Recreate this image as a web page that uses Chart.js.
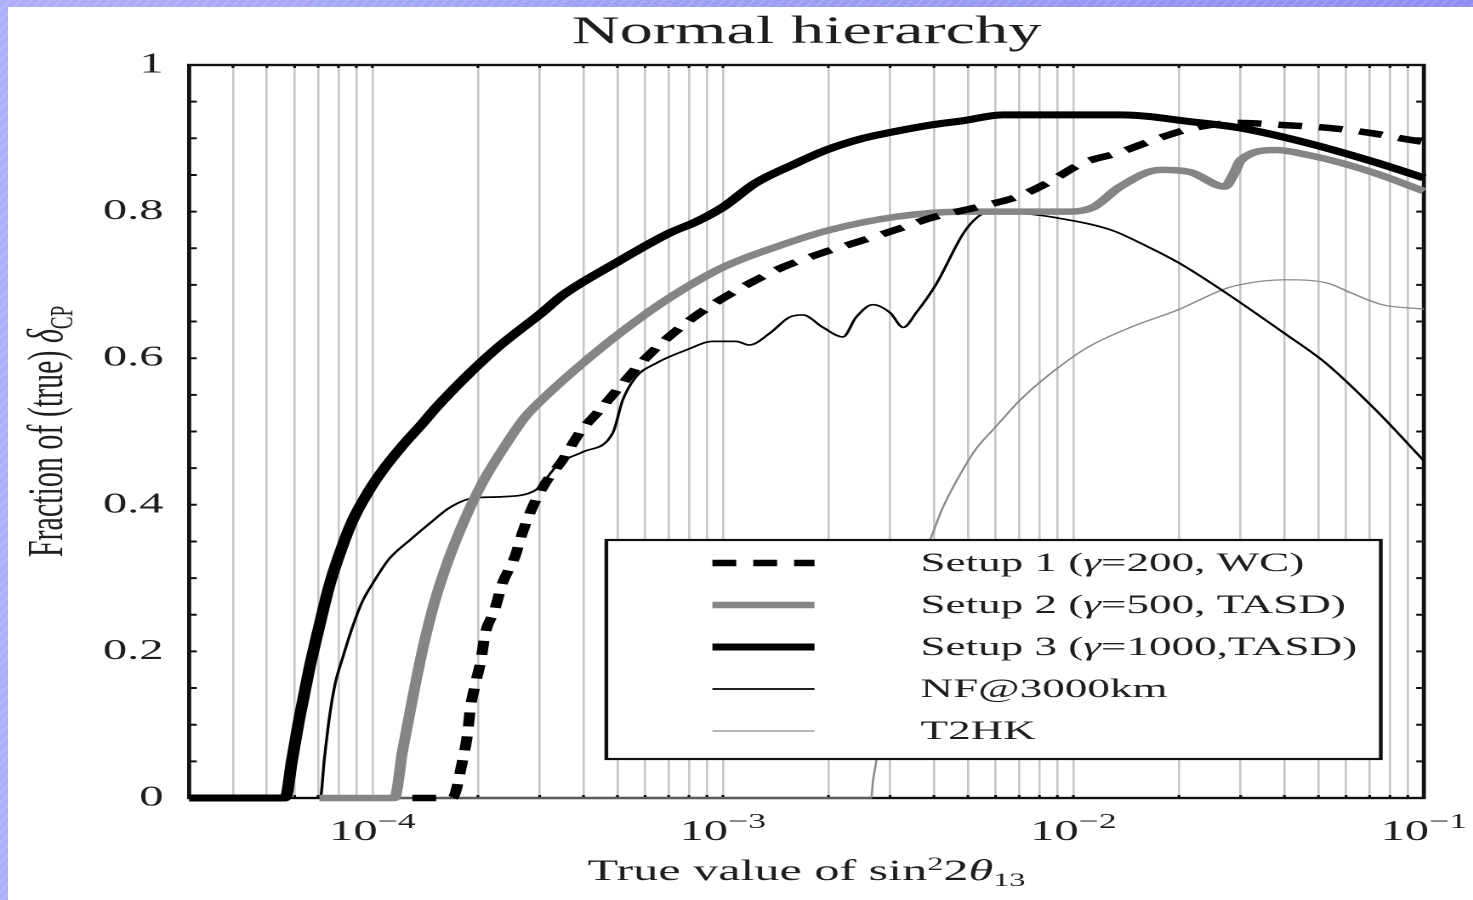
<!DOCTYPE html>
<html>
<head>
<meta charset="utf-8">
<script src="https://cdn.jsdelivr.net/npm/chart.js@4.4.1/dist/chart.umd.min.js"></script>
<style>
  html, body { margin: 0; padding: 0; }
  body {
    width: 1473px; height: 900px; overflow: hidden; position: relative;
    background:
      repeating-linear-gradient(135deg, rgba(255,255,255,0.13) 0 2px, rgba(255,255,255,0) 2px 7px),
      linear-gradient(90deg, #aeaef8, #8e8ef3);
  }
  #paper { position: absolute; left: 8px; top: 7px; right: 0; bottom: 0; background: #fff; }
  #wrap {
    position: absolute; left: 0; top: 0; height: 900px;
    transform-origin: 0 0;
  }
</style>
</head>
<body>
<div id="paper"></div>
<div id="wrap"><canvas id="grafik"></canvas></div>
<script>
// the source picture is stretched sideways, so draw narrow and widen it
const STRETCH = 1.7;
const W = 1473 / STRETCH;

const seriesLabels = ['Setup 1 (γ=200, WC)', 'Setup 2 (γ=500, TASD)', 'Setup 3 (γ=1000,TASD)', 'NF@3000km', 'T2HK'];

const setup1X = [1.3e-4, 1.69e-4, 1.81e-4, 1.87e-4, 1.90e-4, 1.97e-4, 2.04e-4, 2.10e-4, 2.23e-4, 2.35e-4, 2.55e-4, 2.68e-4, 2.87e-4, 3.12e-4, 3.49e-4, 3.9e-4, 4.45e-4, 5.08e-4, 5.8e-4, 6.74e-4, 8.05e-4, 9.55e-4, 1.19e-3, 1.48e-3, 1.9e-3, 2.4e-3, 3.2e-3, 3.9e-3, 5.3e-3, 6.9e-3, 8.5e-3, 1.06e-2, 1.34e-2, 1.75e-2, 2.2e-2, 2.95e-2, 4.0e-2, 5.4e-2, 7.1e-2, 9.1e-2, 0.1];
const setup1Y = [0, 0, 0.052, 0.089, 0.120, 0.157, 0.188, 0.225, 0.256, 0.293, 0.329, 0.362, 0.398, 0.430, 0.461, 0.498, 0.529, 0.561, 0.592, 0.622, 0.652, 0.676, 0.702, 0.724, 0.743, 0.758, 0.777, 0.791, 0.806, 0.820, 0.840, 0.866, 0.880, 0.900, 0.914, 0.921, 0.918, 0.914, 0.907, 0.898, 0.895];

const setup2X = [7.06e-5, 1.156e-4, 1.22e-4, 1.30e-4, 1.39e-4, 1.51e-4, 1.66e-4, 1.85e-4, 2.06e-4, 2.35e-4, 2.73e-4, 3.2e-4, 3.98e-4, 5.08e-4, 6.87e-4, 1e-3, 1.42e-3, 2.02e-3, 3.12e-3, 4.85e-3, 9.8e-3, 1.14e-2, 1.36e-2, 1.77e-2, 2.15e-2, 2.7e-2, 2.88e-2, 3.0e-2, 3.78e-2, 4.7e-2, 5.85e-2, 7.3e-2, 0.1];
const setup2Y = [0, 0, 0.065, 0.134, 0.202, 0.270, 0.329, 0.384, 0.430, 0.475, 0.520, 0.553, 0.593, 0.634, 0.679, 0.724, 0.752, 0.775, 0.793, 0.800, 0.800, 0.806, 0.834, 0.857, 0.854, 0.834, 0.853, 0.870, 0.884, 0.877, 0.866, 0.852, 0.828];

const setup3X = [3e-5, 5.64e-5, 5.9e-5, 6.18e-5, 6.6e-5, 7.06e-5, 7.54e-5, 8.05e-5, 8.77e-5, 9.8e-5, 1.07e-4, 1.22e-4, 1.39e-4, 1.51e-4, 1.66e-4, 1.89e-4, 2.06e-4, 2.35e-4, 3.06e-4, 3.49e-4, 4.95e-4, 7.06e-4, 8.38e-4, 1e-3, 1.24e-3, 1.62e-3, 1.97e-3, 2.51e-3, 3.0e-3, 3.9e-3, 4.85e-3, 6.3e-3, 1.36e-2, 2.22e-2, 3.0e-2, 4.7e-2, 7.3e-2, 0.1];
const setup3Y = [0, 0, 0.052, 0.107, 0.175, 0.235, 0.290, 0.332, 0.378, 0.420, 0.447, 0.481, 0.511, 0.531, 0.552, 0.579, 0.596, 0.620, 0.663, 0.686, 0.730, 0.771, 0.786, 0.806, 0.839, 0.866, 0.884, 0.900, 0.908, 0.918, 0.924, 0.932, 0.932, 0.922, 0.914, 0.893, 0.867, 0.846];

const nfX = [3e-5, 7.1e-5, 7.29e-5, 7.54e-5, 7.84e-5, 8.21e-5, 8.77e-5, 9.36e-5, 1e-4, 1.12e-4, 1.28e-4, 1.46e-4, 1.66e-4, 1.93e-4, 2.35e-4, 2.92e-4, 3.42e-4, 3.98e-4, 4.85e-4, 5.18e-4, 5.64e-4, 6.44e-4, 7.94e-4, 9.36e-4, 1.09e-3, 1.19e-3, 1.36e-3, 1.55e-3, 1.69e-3, 1.93e-3, 2.2e-3, 2.4e-3, 2.68e-3, 3.0e-3, 3.27e-3, 3.56e-3, 4.06e-3, 4.85e-3, 5.28e-3, 5.94e-3, 6.83e-3, 8.84e-3, 1.28e-2, 1.6e-2, 2.0e-2, 2.65e-2, 4.0e-2, 5.26e-2, 7.3e-2, 0.1];
const nfY = [0, 0, 0.052, 0.110, 0.157, 0.190, 0.233, 0.268, 0.292, 0.327, 0.352, 0.375, 0.396, 0.409, 0.411, 0.420, 0.457, 0.472, 0.498, 0.543, 0.574, 0.593, 0.612, 0.623, 0.623, 0.618, 0.634, 0.656, 0.659, 0.642, 0.629, 0.656, 0.673, 0.662, 0.642, 0.662, 0.701, 0.770, 0.791, 0.802, 0.799, 0.792, 0.775, 0.754, 0.730, 0.693, 0.634, 0.593, 0.529, 0.460];

const t2hkX = [3e-5, 2.65e-3, 2.68e-3, 2.74e-3, 2.9e-3, 3.2e-3, 3.55e-3, 3.93e-3, 4.23e-3, 4.67e-3, 5.25e-3, 5.94e-3, 7.05e-3, 8.5e-3, 1.1e-2, 1.47e-2, 1.99e-2, 2.65e-2, 2.97e-2, 4.0e-2, 5.26e-2, 6.2e-2, 7.6e-2, 0.1];
const t2hkY = [0, 0, 0.023, 0.051, 0.17, 0.25, 0.31, 0.356, 0.395, 0.435, 0.475, 0.504, 0.543, 0.577, 0.615, 0.643, 0.666, 0.693, 0.700, 0.707, 0.703, 0.689, 0.673, 0.667];

const xMin = 3e-5, xMax = 0.1;
const xTicks = [1e-4, 1e-3, 1e-2, 1e-1];
const xTickExps = ['\u22124', '\u22123', '\u22122', '\u22121'];
const yTicks = [0, 0.2, 0.4, 0.6, 0.8, 1];
const yTickLabels = ['0', '0.2', '0.4', '0.6', '0.8', '1'];

const SERIF = "'Liberation Serif', 'DejaVu Serif', serif";
const INK = '#1e1e1e';

// plot box, in unstretched canvas units
const plotLeft = 189 / STRETCH, plotRight = 1423 / STRETCH, plotTop = 65, plotBottom = 798;

// light grid at every 1..9 x 10^n
const gridVals = [];
for (let e = -5; e <= -1; e++) {
    for (let m = 1; m <= 9; m++) {
        const v = m * Math.pow(10, e);
        if (v > xMin * 1.01 && v < xMax * 0.99) gridVals.push(v);
    }
}

const pts = (xs, ys) => xs.map((x, i) => ({ x: x, y: ys[i] }));

const styles = [
    { color: '#000', width: 6.5, dash: [14, 10] },
    { color: '#858585', width: 6.5, dash: [] },
    { color: '#000', width: 7, dash: [] },
    { color: '#000', width: 1.7, dash: [] },
    { color: '#8a8a8a', width: 1.3, dash: [] }
];
const seriesData = [pts(setup1X, setup1Y), pts(setup2X, setup2Y), pts(setup3X, setup3Y), pts(nfX, nfY), pts(t2hkX, t2hkY)];

function drawPieces(ctx, pieces, cx, baseY) {
    // pieces: [text, size, italic, shift]
    let total = 0;
    pieces.forEach(p => {
        ctx.font = (p[2] ? 'italic ' : '') + p[1] + 'px ' + SERIF;
        p.w = ctx.measureText(p[0]).width;
        total += p.w;
    });
    let x = cx - total / 2;
    ctx.textAlign = 'left';
    ctx.textBaseline = 'alphabetic';
    pieces.forEach(p => {
        ctx.font = (p[2] ? 'italic ' : '') + p[1] + 'px ' + SERIF;
        ctx.fillText(p[0], x, baseY + p[3]);
        x += p.w;
    });
}

const decor = {
    id: 'decor',
    beforeDatasetsDraw(chart) {
        const { ctx, chartArea: a } = chart;
        const xs = chart.scales.x, ys = chart.scales.y;
        ctx.save();
        ctx.strokeStyle = '#111';
        ctx.lineWidth = 2.4;
        ctx.strokeRect(a.left, a.top, a.right - a.left, a.bottom - a.top);
        // inner ticks
        ctx.lineWidth = 2;
        for (let k = 1; k < 20; k++) {
            const py = ys.getPixelForValue(k * 0.05);
            ctx.beginPath();
            ctx.moveTo(a.left, py); ctx.lineTo(a.left + 4.5, py);
            ctx.moveTo(a.right, py); ctx.lineTo(a.right - 4.5, py);
            ctx.stroke();
        }
        ctx.lineWidth = 1.6;
        gridVals.forEach(v => {
            const px = xs.getPixelForValue(v);
            ctx.beginPath();
            ctx.moveTo(px, a.top); ctx.lineTo(px, a.top + 3);
            ctx.moveTo(px, a.bottom); ctx.lineTo(px, a.bottom - 3);
            ctx.stroke();
        });
        ctx.restore();
    },
    afterDatasetsDraw(chart) {
        const ctx = chart.ctx;
        ctx.save();
        // legend box
        const bx0 = 606 / STRETCH, bx1 = 1380 / STRETCH, by0 = 540, by1 = 759;
        ctx.fillStyle = '#fff';
        ctx.fillRect(bx0, by0, bx1 - bx0, by1 - by0);
        ctx.strokeStyle = '#111';
        ctx.lineWidth = 2.2;
        ctx.strokeRect(bx0, by0, bx1 - bx0, by1 - by0);
        const rows = [563, 605, 647, 689, 731];
        const sx0 = 712 / STRETCH, sx1 = 814 / STRETCH, tx = 920 / STRETCH;
        seriesLabels.forEach((lab, i) => {
            const st = styles[i];
            ctx.strokeStyle = st.color;
            ctx.lineWidth = st.width;
            ctx.setLineDash(st.dash);
            ctx.beginPath();
            ctx.moveTo(sx0, rows[i]); ctx.lineTo(sx1, rows[i]);
            ctx.stroke();
            ctx.setLineDash([]);
            ctx.fillStyle = INK;
            ctx.textBaseline = 'middle';
            ctx.textAlign = 'left';
            let x = tx;
            lab.split(/(γ)/).forEach(part => {
                if (!part) return;
                ctx.font = (part === 'γ' ? 'italic ' : '') + '26.5px ' + SERIF;
                ctx.fillText(part, x, rows[i] + 1);
                x += ctx.measureText(part).width;
            });
        });
        ctx.restore();
    },
    afterDraw(chart) {
        const { ctx, chartArea: a } = chart;
        const xs = chart.scales.x;
        ctx.save();
        ctx.fillStyle = INK;
        // title
        ctx.font = '39px ' + SERIF;
        ctx.textAlign = 'center';
        ctx.textBaseline = 'alphabetic';
        ctx.fillText('Normal hierarchy', (a.left + a.right) / 2, 43);
        // x tick labels 10^n
        xTicks.forEach((v, i) => {
            drawPieces(ctx, [['10', 28.5, false, 0], [xTickExps[i], 21, false, -12]], xs.getPixelForValue(v), 840);
        });
        // x title
        drawPieces(ctx, [
            ['True value of sin', 29.5, false, 0],
            ['2', 19, false, -10],
            ['2', 29.5, false, 0],
            ['θ', 29.5, true, 0],
            ['13', 19, false, 6]
        ], (a.left + a.right) / 2, 880);
        // y title
        ctx.translate(36.5, (a.top + a.bottom) / 2);
        ctx.rotate(-Math.PI / 2);
        drawPieces(ctx, [
            ['Fraction of (true) ', 30, false, 0],
            ['δ', 30, true, 0],
            ['CP', 19, false, 6]
        ], 0, 0);
        ctx.restore();
    }
};

const wrap = document.getElementById('wrap');
wrap.style.width = W + 'px';
wrap.style.transform = 'scaleX(' + STRETCH + ')';

new Chart(document.getElementById('grafik'), {
    type: 'line',
    data: {
        datasets: seriesLabels.map((lab, i) => ({
            label: lab,
            data: seriesData[i],
            borderColor: styles[i].color,
            borderWidth: styles[i].width,
            borderDash: styles[i].dash,
            pointRadius: 0,
            fill: false,
            cubicInterpolationMode: 'monotone',
            clip: false
        }))
    },
    options: {
        responsive: true,
        maintainAspectRatio: false,
        animation: false,
        devicePixelRatio: 2,
        layout: { padding: { left: 0, right: W - plotRight, top: plotTop, bottom: 900 - plotBottom } },
        plugins: { legend: { display: false }, tooltip: { enabled: false } },
        scales: {
            x: {
                type: 'logarithmic',
                min: xMin,
                max: xMax,
                afterBuildTicks: s => { s.ticks = gridVals.map(v => ({ value: v })); },
                afterFit: s => { s.height = 0; },
                ticks: { display: false },
                grid: { color: '#c6c6c6', lineWidth: 1.3, drawTicks: false },
                border: { display: false }
            },
            y: {
                type: 'linear',
                min: 0,
                max: 1,
                afterBuildTicks: s => { s.ticks = yTicks.map(v => ({ value: v })); },
                afterFit: s => { s.width = plotLeft; },
                ticks: {
                    callback: v => yTickLabels[yTicks.indexOf(v)],
                    font: { family: SERIF, size: 28.5 },
                    color: INK,
                    padding: 15
                },
                grid: { display: false, drawTicks: false },
                border: { display: false }
            }
        }
    },
    plugins: [decor]
});
</script>
</body>
</html>
